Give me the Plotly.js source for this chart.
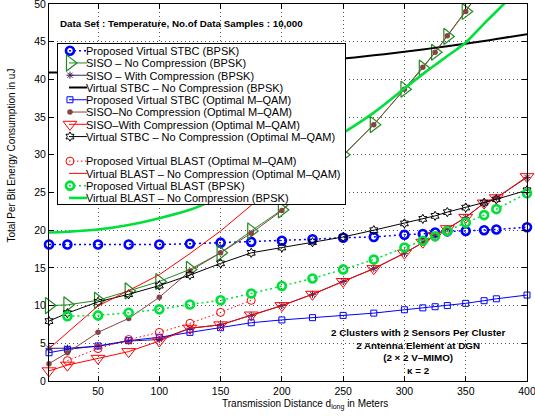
<!DOCTYPE html>
<html><head><meta charset="utf-8">
<script src="https://cdn.plot.ly/plotly-3.0.1.min.js"></script>
<style>html,body{margin:0;padding:0;background:#fff}#chart{width:535px;height:419px}</style>
</head><body><div id="chart"></div>
<script>
// Transmission distance d_long (m)
const distance = [10,25,50,75,100,125,150,175,200,225,250,275,300,315,325,335,350,365,375,400];
const xTickVals = [50,100,150,200,250,300,350,400];

// Energy per bit (uJ)
const stbcBpsk        = [18.1,18.1,18.1,18.1,18.1,18.2,18.35,18.45,18.6,18.8,19.0,19.1,19.4,19.5,19.7,19.85,19.9,20.0,20.1,20.4];
const sisoNoCompBpsk  = [10.0,10.1,10.7,11.95,13.2,14.8,17.0,19.9,22.7,26.2,30.0,34.0,38.7,41.5,43.6,45.7,49.0,52.5,55.0,61.0];
const sisoCompBpsk    = [4.33,4.35,4.6,5.3,5.5,7.0,7.45,8.7,10.0,11.5,13.2,14.9,16.95,18.4,19.3,20.2,21.7,23.6,24.3,27.0];
const vstbcNoCompBpsk = [40.9,40.9,40.93,41.0,41.12,41.28,41.49,41.74,42.04,42.38,42.76,43.19,43.67,43.98,44.18,44.4,44.74,45.1,45.35,46.0];
const stbcMqam        = [3.75,4.2,4.65,5.35,5.8,6.45,7.07,7.73,8.1,8.4,8.7,9.0,9.45,9.7,9.85,10.0,10.3,10.65,10.9,11.4];
const sisoNoCompMqam  = [2.3,3.75,6.45,8.3,11.1,14.6,17.0,19.6,22.6,26.1,29.9,34.0,38.7,41.6,43.6,45.8,49.0,52.4,54.9,60.9];
const sisoCompMqam    = [1.35,2.1,3.0,3.9,5.3,7.0,7.45,8.75,10.0,11.5,13.2,14.9,16.95,18.4,19.3,20.2,21.7,23.6,24.3,27.1];
const vstbcNoCompMqam = [7.95,9.0,10.5,11.5,12.65,14.05,15.6,17.0,17.7,18.4,19.1,20.0,20.9,21.5,21.9,22.4,23.0,23.65,24.1,25.3];
const blastMqam       = [null,2.7,4.3,5.5,6.45,7.65,9.1,10.7,null,null,null,null,null,null,null,null,null,null,null,null];
const vblastNoCompMqam= [4.3,6.4,9.95,12.0,14.1,16.9,19.9,23.3,27.3,null,null,null,null,null,null,null,null,null,null,null];
const blastBpsk       = [null,8.6,8.7,9.05,9.5,10.15,10.7,11.6,12.6,13.6,14.8,16.1,17.7,18.6,19.2,19.9,21.0,22.0,22.8,24.9];
const vblastNoCompBpsk= [19.7,19.8,20.1,20.7,21.6,22.7,24.4,26.2,28.3,30.5,32.9,35.6,38.8,40.7,41.9,43.1,44.9,47.4,49.0,53.2];

const seriesNames = [
  "Proposed Virtual STBC (BPSK)",
  "SISO – No Compression (BPSK)",
  "SISO – With Compression (BPSK)",
  "Virtual STBC – No Compression (BPSK)",
  "Proposed Virtual STBC (Optimal M–QAM)",
  "SISO–No Compression (Optimal M–QAM)",
  "SISO–With Compression (Optimal M–QAM)",
  "Virtual STBC – No Compression (Optimal M–QAM)",
  "Proposed Virtual BLAST (Optimal M–QAM)",
  "Virtual BLAST – No Compression (Optimal M–QAM)",
  "Proposed Virtual BLAST (BPSK)",
  "Virtual BLAST – No Compression (BPSK)"
];

const BLUE='#0000ff', DGREEN='#1e8c1e', PURPLE='#3d1f5c', BROWN='#874343', RED='#ff0000', LIME='#00e03a';
const DOTTED = '2px,3px';

function tr(name, y, mode, line, marker){
  const t = {type:'scatter', x:distance, y:y, name:name, mode:mode, line:line, cliponaxis:false, connectgaps:false};
  if (marker) t.marker = marker;
  return t;
}

const traces = [
  tr(seriesNames[0], stbcBpsk, 'lines+markers', {color:BLUE, dash:DOTTED, width:1.5}, {symbol:'circle-open', size:8, color:BLUE, line:{width:2.6}}),
  tr(seriesNames[1], sisoNoCompBpsk, 'lines+markers', {color:DGREEN, width:1}, {symbol:'triangle-right-open', size:14, color:DGREEN, line:{width:1.2}}),
  tr(seriesNames[2], sisoCompBpsk, 'lines+markers', {color:PURPLE, width:1}, {symbol:'asterisk-open', size:6, color:PURPLE, line:{width:1}}),
  tr(seriesNames[3], vstbcNoCompBpsk, 'lines', {color:'#000', width:2, shape:'spline'}),
  tr(seriesNames[4], stbcMqam, 'lines+markers', {color:BLUE, width:1}, {symbol:'square-open', size:6, color:BLUE, line:{width:1}}),
  tr(seriesNames[5], sisoNoCompMqam, 'lines+markers', {color:BROWN, width:1}, {symbol:'circle', size:5.5, color:BROWN}),
  tr(seriesNames[6], sisoCompMqam, 'lines+markers', {color:RED, width:1}, {symbol:'triangle-down-open', size:12, color:RED, line:{width:1}}),
  tr(seriesNames[7], vstbcNoCompMqam, 'lines+markers', {color:'#000', width:1}, {symbol:'hexagram-open', size:7, color:'#000', line:{width:1}}),
  tr(seriesNames[8], blastMqam, 'lines+markers', {color:RED, dash:'1.5px,2.5px', width:1}, {symbol:'circle-open', size:8, color:RED, line:{width:1}}),
  tr(seriesNames[9], vblastNoCompMqam, 'lines', {color:RED, width:1}),
  tr(seriesNames[10], blastBpsk, 'lines+markers', {color:LIME, dash:DOTTED, width:1.5}, {symbol:'circle-open', size:8, color:LIME, line:{width:2.6}}),
  tr(seriesNames[11], vblastNoCompBpsk, 'lines', {color:LIME, width:2.6, shape:'spline'})
];

const FONT = '"Liberation Sans", Arial, Helvetica, sans-serif';
const axisCommon = {ticks:'inside', ticklen:5, tickwidth:1, tickcolor:'#000', mirror:'ticks', showline:true,
  linecolor:'#000', linewidth:1, showgrid:true, gridcolor:'#555', gridwidth:1, griddash:'1px,3px', zeroline:false,
  ticklabeloverflow:'allow', tickfont:{family:FONT, size:10.5, color:'#000'}};

const layout = {
  width:535, height:419,
  margin:{l:49, r:8, t:4, b:38, pad:0},
  paper_bgcolor:'#fff', plot_bgcolor:'#fff',
  font:{family:FONT, size:10.5, color:'#000'},
  showlegend:true,
  xaxis:Object.assign({range:[10,400], tickmode:'array', tickvals:xTickVals}, axisCommon),
  yaxis:Object.assign({range:[0,50], tick0:0, dtick:5}, axisCommon),
  legend:{x:0.0167, y:0.8966, xanchor:'left', yanchor:'top', bgcolor:'#fff', bordercolor:'#000', borderwidth:1,
    font:{family:FONT, size:11, color:'#000'}, itemwidth:30, traceorder:'normal'},
  annotations:[
    {xref:'paper', yref:'paper', x:0.0188, y:0.9496, xanchor:'left', yanchor:'middle', showarrow:false,
      text:'<b>Data Set : Temperature, No.of Data Samples : 10,000</b>', font:{family:FONT, size:9.8, color:'#000'}},
    {xref:'paper', yref:'paper', x:0.772, y:0.078, xanchor:'center', yanchor:'middle', showarrow:false, align:'center',
      text:'<b>2 Clusters with 2 Sensors Per Cluster<br>2 Antenna Element at DGN<br>(2 × 2 V–MIMO)<br>κ = 2</b>',
      font:{family:FONT, size:9.8, color:'#000'}},
    {xref:'paper', yref:'paper', x:0.5356, y:-0.062, xanchor:'center', yanchor:'middle', showarrow:false,
      text:'Transmission Distance d<sub>long</sub> in Meters', font:{family:FONT, size:10, color:'#000'}},
    {xref:'paper', yref:'paper', x:-0.0774, y:0.598, xanchor:'center', yanchor:'middle', showarrow:false, textangle:-90,
      text:'Total Per Bit Energy Consumption in uJ', font:{family:FONT, size:10, color:'#000'}}
  ]
};

function compactLegend(gd){
  const leg = gd.querySelector('.legend');
  if (!leg) return;
  const items = leg.querySelectorAll('.traces');
  const step = 12.27, top = 7.7;
  let maxW = 0;
  items.forEach(function(it, i){
    const m = /translate\(\s*([-\d.]+)[ ,]+([-\d.]+)/.exec(it.getAttribute('transform')||'');
    const x0 = m ? parseFloat(m[1]) : 1;
    const slot = i + (i >= 8 ? 1 : 0);
    it.setAttribute('transform', 'translate(' + x0 + ',' + (top + slot*step) + ')');
    const txt = it.querySelector('.legendtext');
    if (txt){ txt.setAttribute('x', 28); try { maxW = Math.max(maxW, txt.getComputedTextLength()); } catch(e){} }
    it.querySelectorAll('.legendlines path').forEach(function(p){ p.setAttribute('d','M11,0h18'); });
    const sym = it.querySelector('.legendsymbols');
    if (sym) sym.setAttribute('transform','translate(-8,0)');
    const tog = it.querySelector('.legendtoggle');
    if (tog) tog.setAttribute('height', step);
  });
  const bg = leg.querySelector('.bg');
  if (bg){
    bg.setAttribute('height', top*2 + 12*step - 1.3);
    bg.setAttribute('width', 28 + maxW + 6);
  }
}

Plotly.newPlot('chart', traces, layout, {staticPlot:true, displayModeBar:false}).then(compactLegend);
</script>
</body></html>
